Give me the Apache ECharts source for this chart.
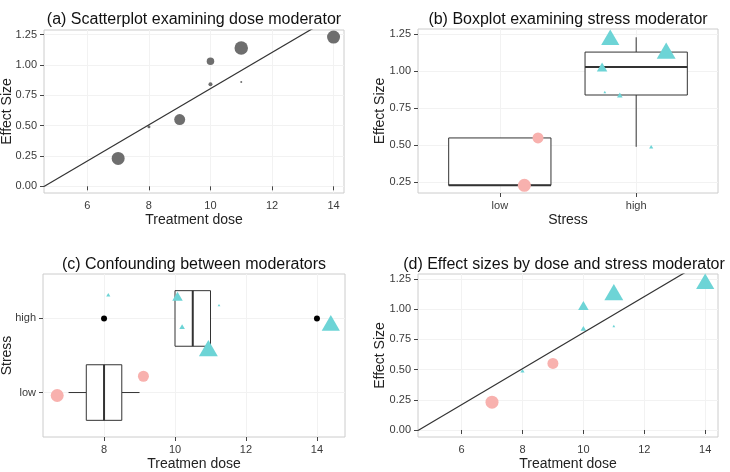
<!DOCTYPE html>
<html>
<head>
<meta charset="utf-8">
<script src="https://cdn.jsdelivr.net/npm/echarts@6/dist/echarts.min.js"></script>
<style>
  html, body { margin: 0; padding: 0; background: #fff; }
  #chart { width: 730px; height: 472px; }
</style>
</head>
<body>
<div id="chart"></div>
<script>
  // studies
  const dose = [7, 8, 9, 10, 10, 11, 11, 14];
  const effect = [0.23, 0.49, 0.55, 1.03, 0.84, 1.14, 0.86, 1.23];
  const stress = ['low', 'high', 'low', 'high', 'high', 'high', 'high', 'high'];
  const weight = [13, 3, 11, 7.5, 4, 13.5, 2, 13];

  // jitter as it was drawn in panels (b) and (c)
  const jitterB = [0.18, 0.11, 0.28, -0.25, -0.12, 0.22, -0.23, -0.19];
  const doseJitterC = [6.68, 8.12, 9.11, 10.07, 10.2, 10.94, 11.24, 14.39];
  const jitterCy = [-0.04, 0.32, 0.22, 0.30, -0.11, -0.40, 0.18, -0.06];

  // box stats: [level, lower whisker, q1, median, q3, upper whisker]
  const stressLevels = ['low', 'high'];
  const boxStress = [[1, 0.23, 0.23, 0.23, 0.55, 0.55], [2, 0.49, 0.84, 1.03, 1.13, 1.23]];
  const boxDose = [[1, 7, 7.5, 8, 8.5, 9], [2, 10, 10, 10.5, 11, 11]];
  const doseOutliers = [[8, 2], [14, 2]];

  // fitted meta-regression line
  const regIntercept = -0.685;
  const regSlope = 0.149;

  const doseTicks = [6, 8, 10, 12, 14];
  const effectTicks = [0, 0.25, 0.5, 0.75, 1, 1.25];
  const effectTicksB = [0.25, 0.5, 0.75, 1, 1.25];

  const titles = [
    '(a) Scatterplot examining dose moderator',
    '(b) Boxplot examining stress moderator',
    '(c) Confounding between moderators',
    '(d) Effect sizes by dose and stress moderator'
  ];

  const FONT = '"Liberation Sans", Arial, sans-serif';
  const GRAY = '#6e6e6e';
  const PINK = '#f8b1ae';
  const TEAL = '#6dd4d6';

  const idx = dose.map((d, i) => i);
  const lowIdx = idx.filter(i => stress[i] === 'low');
  const highIdx = idx.filter(i => stress[i] === 'high');
  const triSize = i => [weight[i] * 1.4, weight[i] * 1.2];

  const myChart = echarts.init(document.getElementById('chart'));

  function valueAxis(gi, min, max, ticks, name, gap, fmt) {
    return {
      type: 'value',
      gridIndex: gi,
      min: min,
      max: max,
      name: name,
      nameLocation: 'middle',
      nameGap: gap,
      nameMoveOverlap: false,
      nameTextStyle: { fontFamily: FONT, fontSize: 14, color: '#222' },
      axisLine: { show: false },
      axisTick: { show: true, length: 4, customValues: ticks, lineStyle: { color: '#444' } },
      axisLabel: {
        customValues: ticks,
        fontFamily: FONT, fontSize: 11, color: '#3a3a3a', margin: 7,
        formatter: fmt || (v => String(v))
      },
      splitLine: { show: true, lineStyle: { color: '#f2f2f2', width: 1 } }
    };
  }

  const f2 = v => Number(v).toFixed(2);
  const fLevel = v => stressLevels[Math.round(v) - 1];

  const xRanges = [[4.59, 14.34], null, [6.28, 14.79], [4.57, 14.42]];

  function regLine(gi) {
    const r = xRanges[gi];
    return {
      type: 'line',
      xAxisIndex: gi, yAxisIndex: gi,
      data: r.map(x => [x, regIntercept + regSlope * x]),
      showSymbol: false,
      clip: true,
      lineStyle: { color: '#333', width: 1.2 },
      z: 3
    };
  }

  function boxRenderer(horizontal) {
    return function (params, api) {
      const pos = api.value(0);
      const lo = api.value(1), q1 = api.value(2), med = api.value(3), q3 = api.value(4), hi = api.value(5);
      const half = 0.375;
      const pt = (p, v) => horizontal ? api.coord([v, p]) : api.coord([p, v]);
      const a = pt(pos - half, q1), b = pt(pos + half, q3);
      const m1 = pt(pos - half, med), m2 = pt(pos + half, med);
      const w1 = pt(pos, lo), w2 = pt(pos, q1), w3 = pt(pos, q3), w4 = pt(pos, hi);
      const stroke = { stroke: '#333', lineWidth: 1 };
      return {
        type: 'group',
        children: [
          { type: 'line', shape: { x1: w1[0], y1: w1[1], x2: w2[0], y2: w2[1] }, style: stroke },
          { type: 'line', shape: { x1: w3[0], y1: w3[1], x2: w4[0], y2: w4[1] }, style: stroke },
          {
            type: 'rect',
            shape: {
              x: Math.min(a[0], b[0]), y: Math.min(a[1], b[1]),
              width: Math.abs(b[0] - a[0]), height: Math.abs(b[1] - a[1])
            },
            style: { fill: '#fff', stroke: '#333', lineWidth: 1 }
          },
          { type: 'line', shape: { x1: m1[0], y1: m1[1], x2: m2[0], y2: m2[1] }, style: { stroke: '#333', lineWidth: 2 } }
        ]
      };
    };
  }

  const titlePos = [[194, 20], [568, 20], [194, 265], [564, 265]];

  myChart.setOption({
    animation: false,
    backgroundColor: '#fff',
    grid: [
      { left: 44, top: 30, width: 300, height: 163 },
      { left: 418, top: 29, width: 300, height: 164 },
      { left: 43, top: 274, width: 302, height: 163 },
      { left: 418, top: 274, width: 300, height: 163 }
    ].map(g => Object.assign(g, { show: true, borderColor: '#cccccc', borderWidth: 1, backgroundColor: '#fff', outerBoundsMode: 'none' })),
    graphic: titles.map((t, i) => ({
      type: 'text',
      x: titlePos[i][0],
      y: titlePos[i][1],
      style: {
        text: t, fontFamily: FONT, fontSize: 16, fill: '#111',
        textAlign: 'center', textVerticalAlign: 'middle'
      }
    })),
    xAxis: [
      valueAxis(0, 4.59, 14.34, doseTicks, 'Treatment dose', 20),
      valueAxis(1, 0.4, 2.6, [1, 2], 'Stress', 20, fLevel),
      valueAxis(2, 6.28, 14.79, [8, 10, 12, 14], 'Treatmen dose', 20),
      valueAxis(3, 4.57, 14.42, doseTicks, 'Treatment dose', 20)
    ],
    yAxis: [
      valueAxis(0, -0.055, 1.288, effectTicks, 'Effect Size', 30, f2),
      valueAxis(1, 0.178, 1.286, effectTicksB, 'Effect Size', 31, f2),
      valueAxis(2, 0.4, 2.6, [1, 2], 'Stress', 29, fLevel),
      valueAxis(3, -0.058, 1.29, effectTicks, 'Effect Size', 31, f2)
    ],
    series: [
      // (a)
      {
        type: 'scatter', xAxisIndex: 0, yAxisIndex: 0,
        data: idx.map(i => ({ value: [dose[i], effect[i]], symbolSize: weight[i] })),
        itemStyle: { color: GRAY, opacity: 1 }, z: 2
      },
      regLine(0),
      // (b)
      {
        type: 'custom', xAxisIndex: 1, yAxisIndex: 1,
        data: boxStress, renderItem: boxRenderer(false),
        encode: { x: 0, y: [1, 2, 3, 4, 5] }, z: 1
      },
      {
        type: 'scatter', xAxisIndex: 1, yAxisIndex: 1,
        data: lowIdx.map(i => ({ value: [1 + jitterB[i], effect[i]], symbolSize: weight[i] })),
        itemStyle: { color: PINK, opacity: 1 }, z: 3
      },
      {
        type: 'scatter', xAxisIndex: 1, yAxisIndex: 1, symbol: 'triangle',
        data: highIdx.map(i => ({ value: [2 + jitterB[i], effect[i]], symbolSize: triSize(i) })),
        itemStyle: { color: TEAL, opacity: 1 }, z: 3
      },
      // (c)
      {
        type: 'custom', xAxisIndex: 2, yAxisIndex: 2,
        data: boxDose, renderItem: boxRenderer(true),
        encode: { y: 0, x: [1, 2, 3, 4, 5] }, z: 1
      },
      {
        type: 'scatter', xAxisIndex: 2, yAxisIndex: 2,
        data: doseOutliers, symbolSize: 6,
        itemStyle: { color: '#000', opacity: 1 }, z: 2
      },
      {
        type: 'scatter', xAxisIndex: 2, yAxisIndex: 2,
        data: lowIdx.map(i => ({ value: [doseJitterC[i], 1 + jitterCy[i]], symbolSize: weight[i] })),
        itemStyle: { color: PINK, opacity: 1 }, z: 3
      },
      {
        type: 'scatter', xAxisIndex: 2, yAxisIndex: 2, symbol: 'triangle',
        data: highIdx.map(i => ({ value: [doseJitterC[i], 2 + jitterCy[i]], symbolSize: triSize(i) })),
        itemStyle: { color: TEAL, opacity: 1 }, z: 3
      },
      // (d)
      {
        type: 'scatter', xAxisIndex: 3, yAxisIndex: 3,
        data: lowIdx.map(i => ({ value: [dose[i], effect[i]], symbolSize: weight[i] })),
        itemStyle: { color: PINK, opacity: 1 }, z: 2
      },
      {
        type: 'scatter', xAxisIndex: 3, yAxisIndex: 3, symbol: 'triangle',
        data: highIdx.map(i => ({ value: [dose[i], effect[i]], symbolSize: triSize(i) })),
        itemStyle: { color: TEAL, opacity: 1 }, z: 2
      },
      regLine(3)
    ]
  });

  window.addEventListener('resize', () => {
    myChart.resize();
  });
</script>
</body>
</html>
